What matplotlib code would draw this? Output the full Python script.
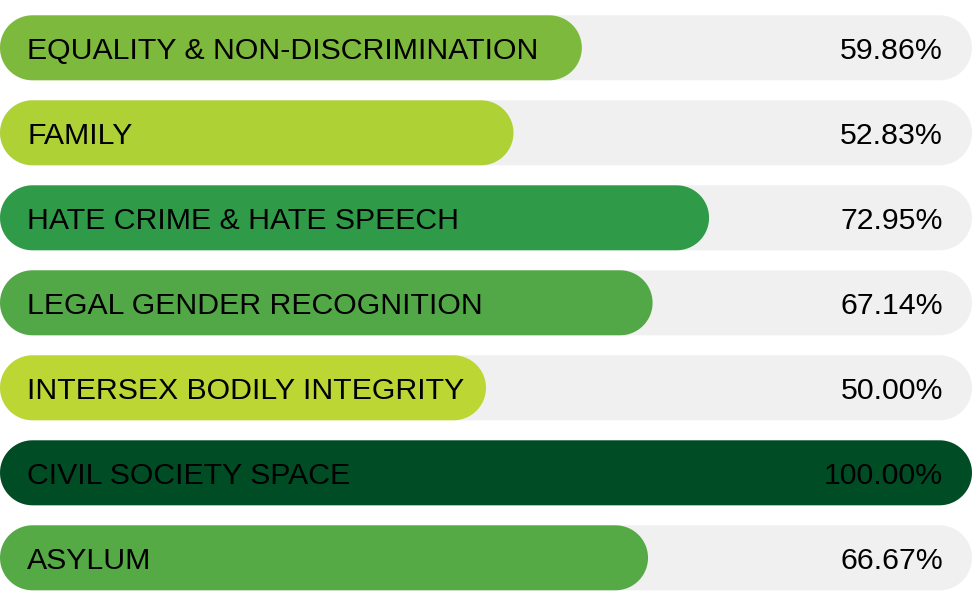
import matplotlib
matplotlib.use("Agg")
import matplotlib.pyplot as plt
import numpy as np
from matplotlib.path import Path
from matplotlib.patches import PathPatch

categories = [
    "EQUALITY & NON-DISCRIMINATION",
    "FAMILY",
    "HATE CRIME & HATE SPEECH",
    "LEGAL GENDER RECOGNITION",
    "INTERSEX BODILY INTEGRITY",
    "CIVIL SOCIETY SPACE",
    "ASYLUM",
]
scores = [59.86, 52.83, 72.95, 67.14, 50.00, 100.00, 66.67]
bar_colors = ["#7cb93c", "#aed136", "#2f9b48", "#52a847", "#bcd634", "#004d25", "#55aa45"]

C_TRACK = "#f0f0f0"
C_TEXT = "#000000"

W_PX, H_PX = 980, 606
PX = 9.72            # pixels per percent unit (track is 972 px wide)
PITCH = 85 / PX      # row pitch
BAR_H = 65 / PX
TOP = 47.8 / PX      # centre of first row

fig = plt.figure(figsize=(W_PX / 100, H_PX / 100), dpi=100)
ax = fig.add_axes([0, 0, 1, 1])
ax.set_xlim(0, W_PX / PX)
ax.set_ylim(H_PX / PX, 0)
ax.set_aspect("equal")
ax.axis("off")


def pill(x0, yc, w, h, color, zo):
    r = h / 2
    t = np.linspace(np.pi / 2, 3 * np.pi / 2, 40)
    left = np.column_stack([x0 + r + r * np.cos(t), yc + r * np.sin(t)])
    t2 = np.linspace(-np.pi / 2, np.pi / 2, 40)
    right = np.column_stack([x0 + w - r + r * np.cos(t2), yc + r * np.sin(t2)])
    verts = np.vstack([left, right, left[:1]])
    ax.add_patch(PathPatch(Path(verts, closed=True), facecolor=color,
                           edgecolor="none", zorder=zo))


for i, (cat, val, col) in enumerate(zip(categories, scores, bar_colors)):
    yc = TOP + i * PITCH
    pill(0, yc, 100, BAR_H, C_TRACK, 1)
    pill(0, yc, val, BAR_H, col, 2)
    ax.text(27 / PX, yc, cat, ha="left", va="center_baseline", fontsize=21.8,
            family="Liberation Sans", color=C_TEXT, zorder=3)
    ax.text(943 / PX, yc, f"{val:.2f}%", ha="right", va="center_baseline",
            fontsize=21.8, family="Liberation Sans", color=C_TEXT, zorder=3)

fig.savefig("out.png", dpi=100, facecolor="white")
